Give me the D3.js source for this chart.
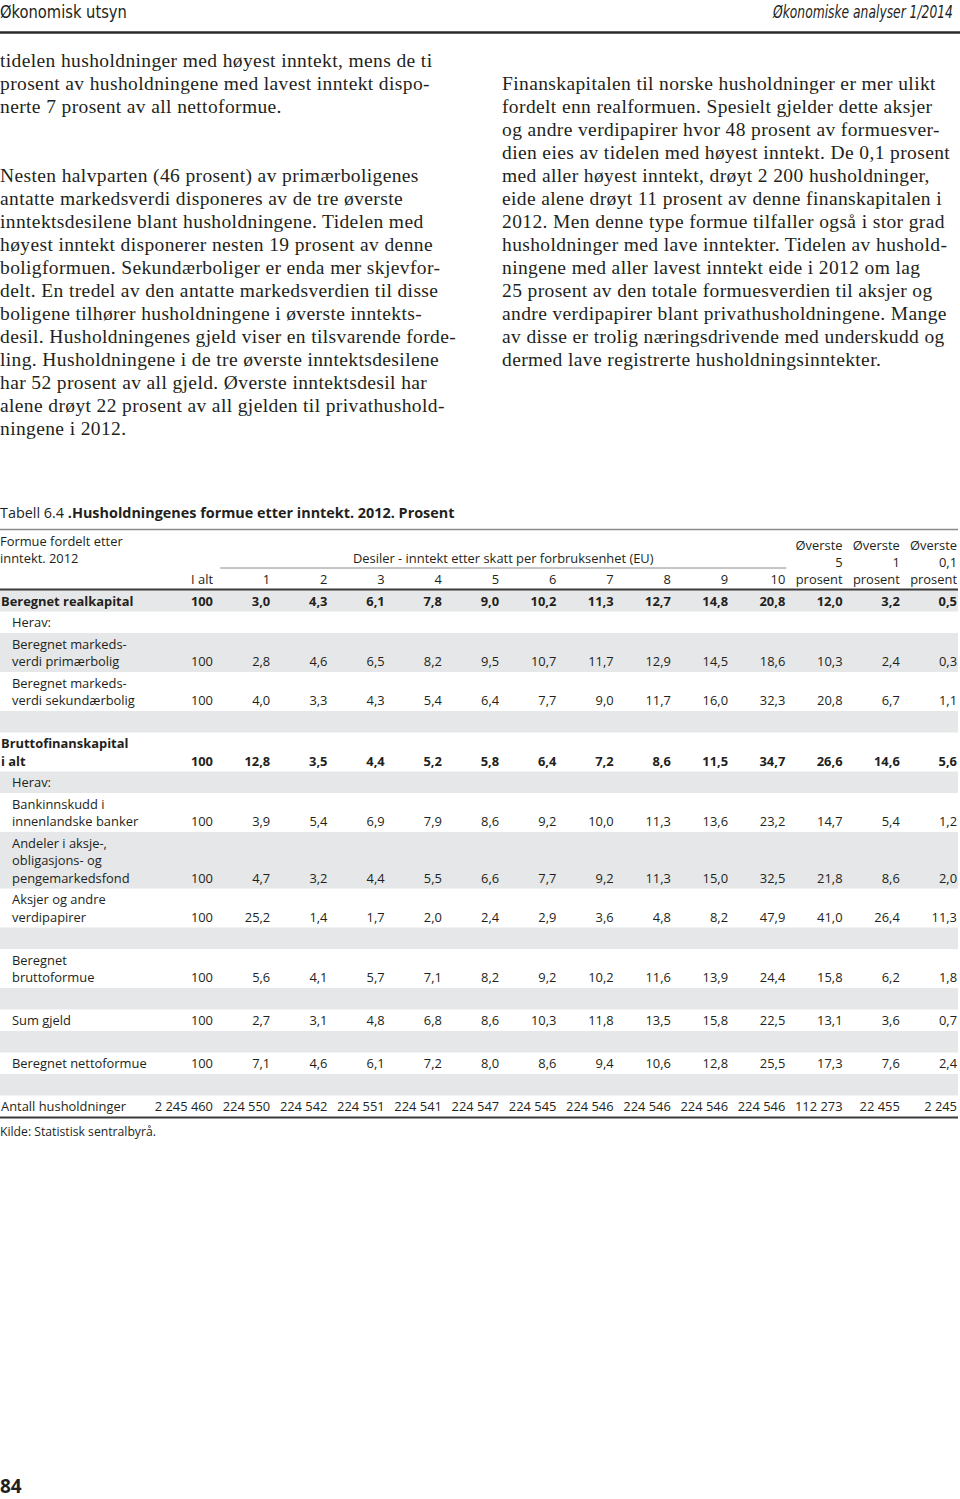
<!DOCTYPE html>
<html><head><meta charset="utf-8">
<script src="https://cdn.jsdelivr.net/npm/d3@7"></script>
<style>
html,body{margin:0;padding:0;background:#fff;}
svg{display:block;}
</style></head>
<body>
<script>
// ---------- DATA ----------
const pageHeaderLeft = "Økonomisk utsyn";
const pageHeaderRight = "Økonomiske analyser 1/2014";
const pageNumber = "84";

const leftParagraph1 = [
  "tidelen husholdninger med høyest inntekt, mens de ti",
  "prosent av husholdningene med lavest inntekt dispo-",
  "nerte 7 prosent av all nettoformue."
];
const leftParagraph2 = [
  "Nesten halvparten (46 prosent) av primærboligenes",
  "antatte markedsverdi disponeres av de tre øverste",
  "inntektsdesilene blant husholdningene. Tidelen med",
  "høyest inntekt disponerer nesten 19 prosent av denne",
  "boligformuen. Sekundærboliger er enda mer skjevfor-",
  "delt. En tredel av den antatte markedsverdien til disse",
  "boligene tilhører husholdningene i øverste inntekts-",
  "desil. Husholdningenes gjeld viser en tilsvarende forde-",
  "ling. Husholdningene i de tre øverste inntektsdesilene",
  "har 52 prosent av all gjeld. Øverste inntektsdesil har",
  "alene drøyt 22 prosent av all gjelden til privathushold-",
  "ningene i 2012."
];
const rightParagraph = [
  "Finanskapitalen til norske husholdninger er mer ulikt",
  "fordelt enn realformuen. Spesielt gjelder dette aksjer",
  "og andre verdipapirer hvor 48 prosent av formuesver-",
  "dien eies av tidelen med høyest inntekt. De 0,1 prosent",
  "med aller høyest inntekt, drøyt 2 200 husholdninger,",
  "eide alene drøyt 11 prosent av denne finanskapitalen i",
  "2012. Men denne type formue tilfaller også i stor grad",
  "husholdninger med lave inntekter. Tidelen av hushold-",
  "ningene med aller lavest inntekt eide i 2012 om lag",
  "25 prosent av den totale formuesverdien til aksjer og",
  "andre verdipapirer blant privathusholdningene. Mange",
  "av disse er trolig næringsdrivende med underskudd og",
  "dermed lave registrerte husholdningsinntekter."
];

const tableTitlePrefix = "Tabell 6.4 ";
const tableTitle = ".Husholdningenes formue etter inntekt. 2012. Prosent";
const stubHeader = ["Formue fordelt etter", "inntekt. 2012"];
const spannerHeader = "Desiler - inntekt etter skatt per forbruksenhet (EU)";
const columnLabels = ["I alt","1","2","3","4","5","6","7","8","9","10"];
const topGroupLabels = [["Øverste","5","prosent"],["Øverste","1","prosent"],["Øverste","0,1","prosent"]];
const source = "Kilde: Statistisk sentralbyrå.";

const realkapital     = [100, 3.0, 4.3, 6.1, 7.8, 9.0, 10.2, 11.3, 12.7, 14.8, 20.8, 12.0, 3.2, 0.5];
const primaerbolig    = [100, 2.8, 4.6, 6.5, 8.2, 9.5, 10.7, 11.7, 12.9, 14.5, 18.6, 10.3, 2.4, 0.3];
const sekundaerbolig  = [100, 4.0, 3.3, 4.3, 5.4, 6.4, 7.7, 9.0, 11.7, 16.0, 32.3, 20.8, 6.7, 1.1];
const bruttofinans    = [100, 12.8, 3.5, 4.4, 5.2, 5.8, 6.4, 7.2, 8.6, 11.5, 34.7, 26.6, 14.6, 5.6];
const bankinnskudd    = [100, 3.9, 5.4, 6.9, 7.9, 8.6, 9.2, 10.0, 11.3, 13.6, 23.2, 14.7, 5.4, 1.2];
const fondsandeler    = [100, 4.7, 3.2, 4.4, 5.5, 6.6, 7.7, 9.2, 11.3, 15.0, 32.5, 21.8, 8.6, 2.0];
const aksjer          = [100, 25.2, 1.4, 1.7, 2.0, 2.4, 2.9, 3.6, 4.8, 8.2, 47.9, 41.0, 26.4, 11.3];
const bruttoformue    = [100, 5.6, 4.1, 5.7, 7.1, 8.2, 9.2, 10.2, 11.6, 13.9, 24.4, 15.8, 6.2, 1.8];
const sumGjeld        = [100, 2.7, 3.1, 4.8, 6.8, 8.6, 10.3, 11.8, 13.5, 15.8, 22.5, 13.1, 3.6, 0.7];
const nettoformue     = [100, 7.1, 4.6, 6.1, 7.2, 8.0, 8.6, 9.4, 10.6, 12.8, 25.5, 17.3, 7.6, 2.4];
const antallHush      = [2245460, 224550, 224542, 224551, 224541, 224547, 224545, 224546, 224546, 224546, 224546, 112273, 22455, 2245];

// table rows (label lines, values, kind)
const rows = [
  {label:["Beregnet realkapital"], values:realkapital, kind:"main"},
  {label:["Herav:"], values:null, kind:"sub"},
  {label:["Beregnet markeds-","verdi primærbolig"], values:primaerbolig, kind:"sub"},
  {label:["Beregnet markeds-","verdi sekundærbolig"], values:sekundaerbolig, kind:"sub"},
  {label:[""], values:null, kind:"sub"},
  {label:["Bruttofinanskapital","i alt"], values:bruttofinans, kind:"main"},
  {label:["Herav:"], values:null, kind:"sub"},
  {label:["Bankinnskudd i","innenlandske banker"], values:bankinnskudd, kind:"sub"},
  {label:["Andeler i aksje-,","obligasjons- og","pengemarkedsfond"], values:fondsandeler, kind:"sub"},
  {label:["Aksjer og andre","verdipapirer"], values:aksjer, kind:"sub"},
  {label:[""], values:null, kind:"sub"},
  {label:["Beregnet","bruttoformue"], values:bruttoformue, kind:"sub"},
  {label:[""], values:null, kind:"sub"},
  {label:["Sum gjeld"], values:sumGjeld, kind:"sub"},
  {label:[""], values:null, kind:"sub"},
  {label:["Beregnet nettoformue"], values:nettoformue, kind:"sub"},
  {label:[""], values:null, kind:"sub"},
  {label:["Antall husholdninger"], values:antallHush, kind:"count"}
];

// ---------- DRAW ----------
const W = 960, H = 1499;
const svg = d3.select("body").append("svg").attr("width", W).attr("height", H);
const ink = "#231f20";
const serif = "'Liberation Serif', 'DejaVu Serif', serif";
const sans = "'Open Sans', 'Noto Sans', sans-serif";
const narrow = "'Liberation Sans Narrow', 'DejaVu Sans Condensed', 'Open Sans', sans-serif";

const locale = d3.formatLocale({decimal:",", thousands:"\u00a0", grouping:[3], currency:["",""]});
const fDec = locale.format(".1f");
const fInt = locale.format(",d");

// page header: fit each text to its target width with a horizontal scale
function fittedHeader(txt, x0, targetW, italic) {
  const g = svg.append("g");
  const t = g.append("text").attr("x", 0).attr("y", 0).attr("font-family", narrow)
    .attr("font-size", 17).attr("fill", ink).attr("font-style", italic ? "italic" : null).text(txt);
  const len = t.node().getComputedTextLength() || targetW;
  g.attr("transform", `translate(${x0},18) scale(${targetW / len},1)`);
}
fittedHeader(pageHeaderLeft, 0, 127, false);
fittedHeader(pageHeaderRight, 773, 180, true);
svg.append("line").attr("x1", 0).attr("x2", 960).attr("y1", 32.5).attr("y2", 32.5)
  .attr("stroke", "#2b2b2b").attr("stroke-width", 2.5);

// body text: line grid
const lineY = d3.scaleLinear().domain([0, 1]).range([67, 90]);
function para(lines, x, startIdx) {
  svg.append("g").selectAll("text").data(lines).join("text")
    .attr("x", x).attr("y", (d, i) => lineY(startIdx + i))
    .attr("font-family", serif).attr("font-size", 19.5).attr("letter-spacing", 0.38).attr("fill", ink)
    .text(d => d);
}
para(leftParagraph1, 0, 0);
para(leftParagraph2, 0, 5);
para(rightParagraph, 502, 1);

// table
const col = d3.scalePoint().domain(d3.range(14)).range([213, 957]);
const tableLeft = 0, tableRight = 958;
const fs = 12.9;

// title
const title = svg.append("text").attr("x", 0).attr("y", 518).attr("font-family", sans)
  .attr("font-size", 14.4).attr("fill", ink);
title.append("tspan").text(tableTitlePrefix);
title.append("tspan").attr("font-weight", "bold").text(tableTitle);
svg.append("line").attr("x1", tableLeft).attr("x2", tableRight).attr("y1", 529.5).attr("y2", 529.5)
  .attr("stroke", "#8a8a8a").attr("stroke-width", 1.5);

// stub header
svg.append("g").selectAll("text").data(stubHeader).join("text")
  .attr("x", 0).attr("y", (d, i) => 545.5 + i * 17)
  .attr("font-family", sans).attr("font-size", fs).attr("fill", ink).text(d => d);

// spanner
const spanX0 = col(1) - 50, spanX1 = col(10) + 1;
svg.append("text").attr("x", (spanX0 + spanX1) / 2).attr("y", 562.5).attr("text-anchor", "middle")
  .attr("font-family", sans).attr("font-size", fs).attr("fill", ink).text(spannerHeader);
svg.append("line").attr("x1", spanX0).attr("x2", spanX1).attr("y1", 568).attr("y2", 568)
  .attr("stroke", "#8a8a8a").attr("stroke-width", 1);

// column labels
svg.append("g").selectAll("text").data(columnLabels).join("text")
  .attr("x", (d, i) => col(i)).attr("y", 583.5).attr("text-anchor", "end")
  .attr("font-family", sans).attr("font-size", fs).attr("fill", ink).text(d => d);
topGroupLabels.forEach((lines, j) => {
  svg.append("g").selectAll("text").data(lines).join("text")
    .attr("x", col(11 + j)).attr("y", (d, i) => 549.5 + i * 17).attr("text-anchor", "end")
    .attr("font-family", sans).attr("font-size", fs).attr("fill", ink).text(d => d);
});

// body rows
const lh = 17.5, rowPad = 4;
let y = 590;
const rowG = svg.append("g");
rows.forEach((r, idx) => {
  const h = rowPad + lh * r.label.length;
  if (idx % 2 === 0) {
    rowG.append("rect").attr("x", tableLeft).attr("y", y).attr("width", tableRight - tableLeft)
      .attr("height", h).attr("fill", "#e6e7e8");
  }
  const bold = r.kind === "main";
  const indent = (r.kind === "sub") ? 12 : 1;
  rowG.append("g").selectAll("text").data(r.label).join("text")
    .attr("x", indent).attr("y", (d, i) => y + 15.5 + i * lh)
    .attr("font-family", sans).attr("font-size", fs).attr("fill", ink)
    .attr("font-weight", bold ? "bold" : null).text(d => d);
  if (r.values) {
    const vy = y + 15.5 + (r.label.length - 1) * lh;
    rowG.append("g").selectAll("text").data(r.values).join("text")
      .attr("x", (d, i) => col(i)).attr("y", vy).attr("text-anchor", "end")
      .attr("font-family", sans).attr("font-size", fs).attr("fill", ink)
      .attr("font-weight", bold ? "bold" : null)
      .text((d, i) => (r.kind === "count" || i === 0) ? fInt(d) : fDec(d));
  }
  y += h;
});
svg.append("line").attr("x1", tableLeft).attr("x2", tableRight).attr("y1", 589.5).attr("y2", 589.5)
  .attr("stroke", "#3a3a3a").attr("stroke-width", 2);
svg.append("line").attr("x1", tableLeft).attr("x2", tableRight).attr("y1", y + 0.5).attr("y2", y + 0.5)
  .attr("stroke", "#3a3a3a").attr("stroke-width", 2);

svg.append("text").attr("x", 0).attr("y", y + 18.5).attr("font-family", sans).attr("font-size", 12.2)
  .attr("fill", ink).text(source);

// page number
svg.append("text").attr("x", 0).attr("y", 1493).attr("font-family", sans).attr("font-weight", "bold")
  .attr("font-size", 19).attr("fill", ink).text(pageNumber);
</script>
</body></html>
